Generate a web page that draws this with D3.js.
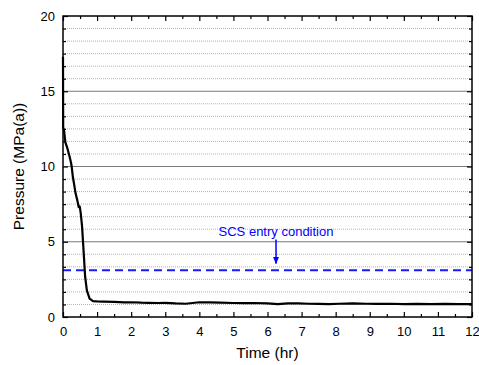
<!DOCTYPE html>
<html>
<head>
<meta charset="utf-8">
<script src="https://cdn.jsdelivr.net/npm/d3@7"></script>
<style>
  body { margin: 0; background: #fff; }
  svg { display: block; font-family: "Liberation Sans", Arial, sans-serif; }
</style>
</head>
<body>
<svg width="479" height="365"></svg>
<script>
// pressure trace, time in hr, pressure in MPa(a)
var timeHr = [0, 0.005, 0.03, 0.07, 0.13, 0.2, 0.24, 0.26, 0.29, 0.32, 0.37, 0.42, 0.46, 0.49, 0.52,
    0.56, 0.59, 0.62, 0.65, 0.70, 0.78, 0.88, 1.0, 1.2, 1.5, 1.8, 2.0, 2.3, 2.5, 2.8, 3.0, 3.3, 3.6,
    3.8, 4.0, 4.3, 4.6, 5.0, 5.3, 5.6, 6.0, 6.3, 6.6, 6.9, 7.2, 7.5, 7.8, 8.1, 8.5, 8.9, 9.2, 9.6,
    10.0, 10.4, 10.8, 11.2, 11.6, 12.0]
var pressure = [17.3, 12.6, 12.4, 11.6, 11.2, 10.6, 10.2, 9.9, 9.3, 8.9, 8.2, 7.75, 7.3, 7.35, 6.9,
    6.0, 4.9, 3.8, 2.66, 1.77, 1.22, 1.06, 1.04, 1.02, 1.0, 0.97, 0.98, 0.95, 0.94, 0.93, 0.94, 0.9, 0.88,
    0.93, 0.98, 0.97, 0.95, 0.93, 0.92, 0.93, 0.9, 0.86, 0.9, 0.91, 0.88, 0.87, 0.85, 0.88, 0.9, 0.88, 0.87, 0.88,
    0.86, 0.87, 0.85, 0.87, 0.86, 0.85]

var entryLevel = 3.1
var entryLabel = "SCS entry condition"
var arrowTime = 6.25

var xTicks = d3.range(0, 13, 1)
var xMinor = d3.range(0.5, 12, 1)
var yTicks = [0, 5, 10, 15, 20]
var yMinor = d3.range(0, 20.001, 5 / 6).filter(v => Math.abs(v % 5) > 0.01 && Math.abs(v % 5 - 5) > 0.01)

var svg = d3.select("svg")
var pL = 63, pR = 472, pT = 16, pB = 317

var scX = d3.scaleLinear().domain([0, 12]).range([pL, pR])
var scY = d3.scaleLinear().domain([0, 20]).range([pB, pT])

// grid
svg.append("g").selectAll("line").data(yMinor).enter().append("line")
    .attr("x1", pL).attr("x2", pR)
    .attr("y1", d => scY(d)).attr("y2", d => scY(d))
    .attr("stroke", "#b4b4b4").attr("stroke-width", 1).attr("stroke-dasharray", "1,1")
svg.append("g").selectAll("line").data([5, 10, 15]).enter().append("line")
    .attr("x1", pL).attr("x2", pR)
    .attr("y1", d => scY(d)).attr("y2", d => scY(d))
    .attr("stroke", "#7a7a7a").attr("stroke-width", 1)

// entry condition line
svg.append("line")
    .attr("x1", pL).attr("x2", pR)
    .attr("y1", scY(entryLevel)).attr("y2", scY(entryLevel))
    .attr("stroke", "#1a1aff").attr("stroke-width", 2).attr("stroke-dasharray", "8,5")

// annotation
svg.append("defs").append("marker").attr("id", "arr")
    .attr("viewBox", "0 0 10 10").attr("refX", 9).attr("refY", 5)
    .attr("markerWidth", 5).attr("markerHeight", 5).attr("orient", "auto")
    .append("path").attr("d", "M0,1 L10,5 L0,9 Z").attr("fill", "#0000ff")
svg.append("text").attr("x", scX(arrowTime)).attr("y", scY(5.36))
    .attr("text-anchor", "middle").attr("font-size", 13).attr("fill", "#0000ff")
    .text(entryLabel)
svg.append("line").attr("x1", scX(arrowTime)).attr("x2", scX(arrowTime))
    .attr("y1", scY(5.15)).attr("y2", scY(3.55))
    .attr("stroke", "#0000ff").attr("stroke-width", 1.5).attr("marker-end", "url(#arr)")

// axes (ticks inward)
var styleAx = function (g) {
    g.select(".domain").remove()
    g.selectAll("line").attr("stroke", "#000").attr("stroke-width", 1.2)
    g.selectAll("text").attr("font-size", 13).attr("fill", "#000")
        .attr("font-family", "Liberation Sans, Arial, sans-serif")
}
svg.append("g").attr("transform", `translate(0,${pB})`)
    .call(d3.axisBottom(scX).tickValues(xTicks).tickSize(-5).tickPadding(10).tickFormat(d3.format("d")))
    .call(styleAx)
svg.append("g").attr("transform", `translate(0,${pB})`)
    .call(d3.axisBottom(scX).tickValues(xMinor).tickSize(-3).tickFormat(""))
    .call(styleAx)
svg.append("g").attr("transform", `translate(0,${pT})`)
    .call(d3.axisTop(scX).tickValues(xTicks).tickSize(-5).tickFormat(""))
    .call(styleAx)
svg.append("g").attr("transform", `translate(0,${pT})`)
    .call(d3.axisTop(scX).tickValues(xMinor).tickSize(-3).tickFormat(""))
    .call(styleAx)
svg.append("g").attr("transform", `translate(${pL},0)`)
    .call(d3.axisLeft(scY).tickValues(yTicks).tickSize(-5).tickPadding(8))
    .call(styleAx)
svg.append("g").attr("transform", `translate(${pL},0)`)
    .call(d3.axisLeft(scY).tickValues(yMinor).tickSize(-3).tickFormat(""))
    .call(styleAx)
svg.append("g").attr("transform", `translate(${pR},0)`)
    .call(d3.axisRight(scY).tickValues(yTicks).tickSize(-5).tickFormat(""))
    .call(styleAx)
svg.append("g").attr("transform", `translate(${pR},0)`)
    .call(d3.axisRight(scY).tickValues(yMinor).tickSize(-3).tickFormat(""))
    .call(styleAx)

// frame
svg.append("rect").attr("x", pL).attr("y", pT)
    .attr("width", pR - pL).attr("height", pB - pT)
    .attr("fill", "none").attr("stroke", "#000").attr("stroke-width", 1.5)

// data, on top of the frame so the t=0 spike shows
var lineMaker = d3.line().x((d, i) => scX(timeHr[i])).y(d => scY(d))
svg.append("path").attr("d", lineMaker(pressure))
    .attr("fill", "none").attr("stroke", "#000").attr("stroke-width", 2.2)
    .attr("stroke-linejoin", "round")

// titles
svg.append("text").attr("x", (pL + pR) / 2).attr("y", 358)
    .attr("text-anchor", "middle").attr("font-size", 15.5).text("Time (hr)")
svg.append("text").attr("transform", `translate(24,${(pT + pB) / 2}) rotate(-90)`)
    .attr("text-anchor", "middle").attr("font-size", 15.5).text("Pressure (MPa(a))")
</script>
</body>
</html>
